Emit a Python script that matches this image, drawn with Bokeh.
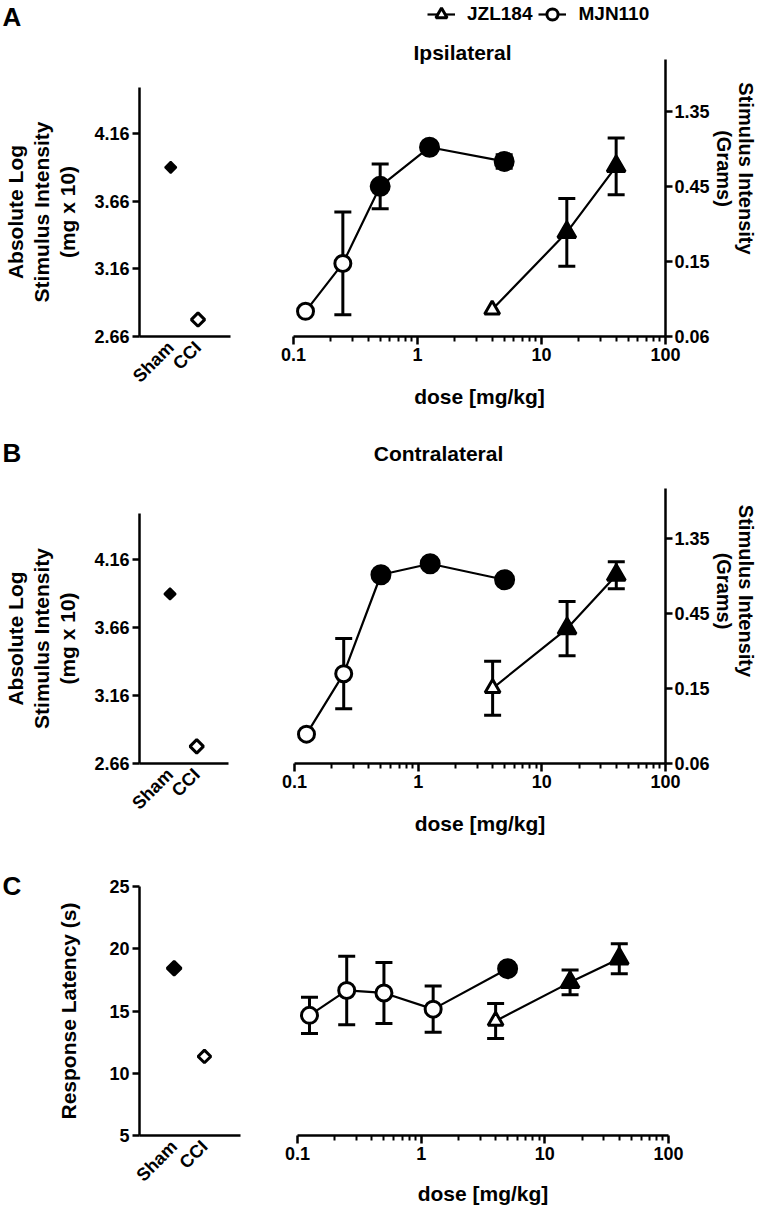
from math import pi
from bokeh.plotting import figure
from bokeh.layouts import row, column
from bokeh.models import (Range1d, FixedTicker, Whisker, TeeHead, ColumnDataSource, Label,
                          Legend, LegendItem, NumeralTickFormatter)
from bokeh.embed import file_html
from bokeh.resources import INLINE

FONT = "Liberation Sans"

# ---------------- data ----------------
groups = ["Sham", "CCI"]
group_filled = [1, 0]
mjn_dose = [0.125, 0.25, 0.5, 1.25, 5]
jzl_dose = [4, 16, 40]

# A - Ipsilateral (absolute log stimulus intensity)
ipsi_group = [3.91, 2.785]
ipsi_mjn = [2.846, 3.20, 3.77, 4.059, 3.954]
ipsi_mjn_sem = [0.0, 0.38, 0.165, 0.0, 0.05]
ipsi_mjn_sig = [0, 0, 1, 1, 1]
ipsi_jzl = [2.859, 3.43, 3.917]
ipsi_jzl_sem = [0.0, 0.25, 0.21]
ipsi_jzl_sig = [0, 1, 1]

# B - Contralateral
contra_group = [3.908, 2.786]
contra_mjn = [2.877, 3.324, 4.055, 4.136, 4.018]
contra_mjn_sem = [0.0, 0.26, 0.0, 0.0, 0.0]
contra_mjn_sig = [0, 0, 1, 1, 1]
contra_jzl = [3.216, 3.657, 4.052]
contra_jzl_sem = [0.2, 0.2, 0.1]
contra_jzl_sig = [0, 1, 1]

# C - Response latency (s)
lat_group = [18.44, 11.35]
lat_mjn = [14.65, 16.65, 16.45, 15.15, 18.4]
lat_mjn_sem = [1.45, 2.75, 2.45, 1.85, 0.0]
lat_mjn_sig = [0, 0, 0, 0, 1]
lat_jzl = [14.2, 17.3, 19.2]
lat_jzl_sem = [1.4, 1.0, 1.2]
lat_jzl_sig = [0, 1, 1]

log_ticks = [0.1, 1, 10, 100]
log_minor = [m * d for d in (0.1, 1, 10) for m in range(2, 10)]
abs_ticks = [2.66, 3.16, 3.66, 4.16]
abs_top = 4.50
gram_pos = [2.66, 3.215, 3.77, 4.325]
gram_labels = ["0.06", "0.15", "0.45", "1.35"]
lat_ticks = [5, 10, 15, 20, 25]

PX_PER_UNIT = 135.3   # vertical scale of the log-intensity panels

TICK_FS = "18px"
LABEL_FS = "21px"


def style_axis(ax, tick_out=7):
    ax.axis_line_width = 2.5
    ax.axis_line_color = "black"
    ax.major_tick_line_width = 2.5
    ax.major_tick_line_color = "black"
    ax.major_tick_out = tick_out
    ax.major_tick_in = 0
    ax.minor_tick_line_width = 2
    ax.minor_tick_line_color = "black"
    ax.minor_tick_out = 4
    ax.minor_tick_in = 0
    ax.major_label_text_font = FONT
    ax.major_label_text_font_style = "bold"
    ax.major_label_text_font_size = TICK_FS
    ax.major_label_text_color = "black"
    ax.axis_label_text_font = FONT
    ax.axis_label_text_font_style = "bold"
    ax.axis_label_text_font_size = LABEL_FS
    ax.axis_label_text_color = "black"
    ax.axis_label_text_line_height = 1.15


def add_text(p, text, x, y, size, align="center", baseline="middle"):
    p.add_layout(Label(x=x, y=y, x_units="screen", y_units="screen", text=text,
                       text_font=FONT, text_font_style="bold", text_font_size=size,
                       text_align=align, text_baseline=baseline, text_color="black"))


def base_fig(width, height, x_range, y_range, borders, **kw):
    bl, br, bt, bb = borders
    p = figure(width=width, height=height, x_range=x_range, y_range=y_range,
               output_backend="svg", toolbar_location=None, frame_align=False,
               min_border_left=bl, min_border_right=br, min_border_top=bt,
               min_border_bottom=bb, **kw)
    p.outline_line_color = None
    p.grid.visible = False
    p.background_fill_color = "white"
    p.border_fill_color = "white"
    return p


def letter_fig(letter, width, height, x, y):
    p = base_fig(width, height, Range1d(0, 1), Range1d(0, 1), (0, 0, 0, 0),
                 x_axis_location=None, y_axis_location=None)
    add_text(p, letter, x, y, "26px", align="left")
    return p


def left_panel(vals, y_range, yticks, fmt, ylabel, width, height, borders, dsizes,
               label_standoff):
    p = base_fig(width, height, Range1d(-0.143, 3.19), Range1d(*y_range), borders)
    xs = [i + 1 for i in range(len(groups))]
    src = ColumnDataSource(dict(
        x=xs, y=vals,
        fill=["black" if f else "white" for f in group_filled],
        size=[dsizes[0] if f else dsizes[1] for f in group_filled],
        lw=[dsizes[2] if f else dsizes[3] for f in group_filled]))
    p.scatter("x", "y", source=src, marker="square", angle=pi / 4, size="size",
              fill_color="fill", line_color="black", line_width="lw")
    xa = p.xaxis[0]
    ya = p.yaxis[0]
    style_axis(xa)
    style_axis(ya)
    xa.ticker = FixedTicker(ticks=xs)
    xa.major_label_overrides = dict(zip(xs, groups))
    xa.major_label_orientation = pi / 4
    xa.major_tick_line_color = None
    xa.major_tick_out = 0
    xa.minor_tick_line_color = None
    xa.major_label_standoff = 8
    ya.ticker = FixedTicker(ticks=yticks)
    ya.formatter = NumeralTickFormatter(format=fmt)
    ya.axis_label = ylabel
    ya.axis_label_standoff = label_standoff
    ya.major_label_standoff = 3
    ya.minor_tick_line_color = None
    return p


def right_panel(mjn, mjn_sem, mjn_sig, jzl, jzl_sem, jzl_sig, y_range, width, height,
                borders, right_axis=None, title=None, title_xy=None, legend=None,
                xlabel_standoff=20):
    p = base_fig(width, height, Range1d(0.1, 100), Range1d(*y_range), borders,
                 x_axis_type="log",
                 y_axis_location="right" if right_axis else None)
    rends = {}
    series = [("MJN110", mjn_dose, mjn, mjn_sem, mjn_sig, "circle", 16, 18),
              ("JZL184", jzl_dose, jzl, jzl_sem, jzl_sig, "triangle", 15, 18)]
    for name, dose, m, s, sig, marker, s_open, s_fill in series:
        idx = [i for i in range(len(dose)) if s[i] > 0]
        wsrc = ColumnDataSource(dict(base=[dose[i] for i in idx],
                                     upper=[m[i] + s[i] for i in idx],
                                     lower=[m[i] - s[i] for i in idx]))
        p.add_layout(Whisker(source=wsrc, base="base", upper="upper", lower="lower",
                             line_width=3, line_color="black",
                             upper_head=TeeHead(size=17, line_width=3, line_color="black"),
                             lower_head=TeeHead(size=17, line_width=3, line_color="black")))
        ln = p.line(dose, m, line_color="black", line_width=2.2)
        src = ColumnDataSource(dict(x=dose, y=m,
                                    fill=["black" if f else "white" for f in sig],
                                    size=[s_fill if f else s_open for f in sig]))
        sc = p.scatter("x", "y", source=src, marker=marker, size="size",
                       fill_color="fill", line_color="black", line_width=3)
        rends[name] = [ln, sc]
    xa = p.xaxis[0]
    style_axis(xa, tick_out=8)
    xa.ticker = FixedTicker(ticks=log_ticks, minor_ticks=log_minor)
    xa.formatter = NumeralTickFormatter(format="0.[0]")
    xa.axis_label = "dose [mg/kg]"
    xa.axis_label_standoff = xlabel_standoff
    xa.major_label_standoff = 3
    xa.minor_tick_out = 5
    if right_axis:
        ya = p.yaxis[0]
        style_axis(ya)
        ya.ticker = FixedTicker(ticks=gram_pos)
        ya.major_label_overrides = dict(zip(gram_pos, gram_labels))
        ya.axis_label = "Stimulus Intensity\n(Grams)"
        ya.axis_label_standoff = 0
        ya.axis_label_text_font_size = "20px"
        ya.axis_label_text_line_height = 1.0
        ya.major_label_standoff = 2
        ya.minor_tick_line_color = None
        ya.bounds = right_axis
    if title:
        add_text(p, title, title_xy[0], title_xy[1], LABEL_FS)
    if legend:
        lg = Legend(items=[LegendItem(label="JZL184", renderers=rends["JZL184"]),
                           LegendItem(label="MJN110", renderers=rends["MJN110"])],
                    location=legend, orientation="horizontal",
                    glyph_width=28, glyph_height=34, label_standoff=12, spacing=6,
                    padding=0, margin=0, border_line_color=None,
                    background_fill_alpha=0,
                    label_text_font=FONT, label_text_font_style="bold",
                    label_text_font_size="19px", label_text_color="black")
        p.add_layout(lg)
    return p


ABS_LABEL = "Absolute Log\nStimulus Intensity\n(mg x 10)"

# ---- row A (page y 0..418) ----
la_t = letter_fig("A", 260, 40, 2, 24)
la = left_panel(ipsi_group, (2.66, abs_top), abs_ticks, "0.00", ABS_LABEL, 260, 378,
                (133, 30, 47, 82), (8, 9.5, 2, 3), 12)
ra = right_panel(ipsi_mjn, ipsi_mjn_sem, ipsi_mjn_sig, ipsi_jzl, ipsi_jzl_sem, ipsi_jzl_sig,
                 (2.66, 2.66 + 336 / PX_PER_UNIT), 500, 418, (33, 95, 0, 82),
                 right_axis=(2.66, 4.707), title="Ipsilateral", title_xy=(169, 284),
                 legend=(134, 305), xlabel_standoff=21)

# ---- row B (page y 418..845) ----
lb_t = letter_fig("B", 260, 60, 2, 26)
lb = left_panel(contra_group, (2.66, abs_top), abs_ticks, "0.00", ABS_LABEL, 260, 367,
                (131, 32, 35, 82), (8, 9.5, 2, 3), 12)
rb = right_panel(contra_mjn, contra_mjn_sem, contra_mjn_sig, contra_jzl, contra_jzl_sem,
                 contra_jzl_sig, (2.66, 2.66 + 345 / PX_PER_UNIT), 500, 427, (34, 95, 0, 82),
                 right_axis=(2.66, 4.693), title="Contralateral", title_xy=(144, 310),
                 xlabel_standoff=21)

# ---- row C (page y 845..1212) ----
lc_t = letter_fig("C", 40, 367, 2, 327)
lc = left_panel(lat_group, (5, 25), lat_ticks, "0", "Response Latency (s)", 220, 367,
                (99, 20, 41, 77), (10, 9, 2.7, 3), 26)
rc = right_panel(lat_mjn, lat_mjn_sem, lat_mjn_sig, lat_jzl, lat_jzl_sem, lat_jzl_sig,
                 (5, 25), 500, 367, (37, 92, 41, 77), xlabel_standoff=19)

layout = column(
    row(column(la_t, la), ra),
    row(column(lb_t, lb), rb),
    row(row(lc_t, lc), rc),
)

open("out.html", "w").write(file_html(layout, INLINE))
